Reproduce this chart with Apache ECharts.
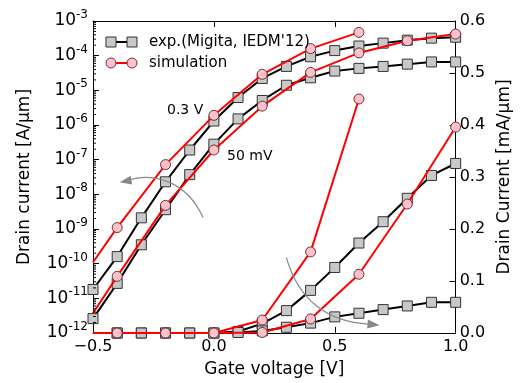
<!DOCTYPE html>
<html>
<head>
<meta charset="utf-8">
<script src="https://cdn.jsdelivr.net/npm/echarts@6/dist/echarts.min.js"></script>
<style>
  html, body { margin: 0; padding: 0; background: #fff; }
  #chart { width: 521px; height: 383px; }
</style>
</head>
<body>
<div id="chart"></div>
<script>
// gate voltage points
const expVg = [-0.5, -0.4, -0.3, -0.2, -0.1, 0.0, 0.1, 0.2, 0.3, 0.4, 0.5, 0.6, 0.7, 0.8, 0.9, 1.0]
const simVg = [-0.5, -0.4, -0.2, 0.0, 0.2, 0.4, 0.6, 0.8, 1.0]

// log scale [A/um]
const expLog03 = [1.8e-11, 1.6e-10, 2.1e-9, 2.3e-8, 1.9e-7, 1.3e-6, 6.2e-6, 2.2e-5, 4.9e-5, 9.3e-5, 1.4e-4, 1.9e-4, 2.3e-4, 2.8e-4, 3.2e-4, 3.4e-4]
const expLog005 = [2.6e-12, 2.7e-11, 3.5e-10, 3.6e-9, 3.7e-8, 2.8e-7, 1.5e-6, 5.1e-6, 1.4e-5, 2.3e-5, 3.6e-5, 4.3e-5, 4.9e-5, 5.7e-5, 6.6e-5, 6.6e-5]
const simLog03 = [1.1e-10, 1.1e-9, 7.2e-8, 1.9e-6, 2.9e-5, 1.6e-4, 4.7e-4]
const simLog005 = [3.7e-12, 4.3e-11, 4.8e-9, 1.9e-7, 3.5e-6, 3.3e-5, 1.2e-4, 2.7e-4, 4.2e-4]

// linear scale [mA/um]
const expLin03 = [0, 0, 0, 0, 0, 0, 0.003, 0.018, 0.043, 0.082, 0.126, 0.173, 0.214, 0.259, 0.303, 0.326]
const expLin005 = [0, 0, 0, 0, 0, 0, 0.001, 0.004, 0.011, 0.019, 0.031, 0.038, 0.045, 0.052, 0.059, 0.059]
const simLin03 = [0, 0, 0, 0, 0.025, 0.156, 0.450]
const simLin005 = [0, 0, 0, 0, 0.001, 0.027, 0.113, 0.248, 0.396]

const EXP_NAME = 'exp.(Migita, IEDM\'12)'
const SIM_NAME = 'simulation'
const FONT = 'DejaVu Sans'

const chart = echarts.init(document.getElementById('chart'))

const GRID = { left: 93, top: 21, right: 62, bottom: 50 }

function pairs (xs, ys, skipFirstSymbol) {
  return ys.map((y, i) => {
    const item = { value: [xs[i], y] }
    if (skipFirstSymbol && i === 0) item.symbol = 'none'
    return item
  })
}

function expSeries (ys, yAxisIndex, start) {
  return {
    name: EXP_NAME,
    type: 'line',
    yAxisIndex,
    data: pairs(expVg.slice(start || 0), ys.slice(start || 0), false),
    symbol: 'rect',
    symbolSize: 10,
    lineStyle: { color: '#000', width: 2 },
    itemStyle: { color: '#c8c8c8', borderColor: '#333', borderWidth: 1 },
    z: 2,
    animation: false
  }
}

function simSeries (ys, yAxisIndex) {
  return {
    name: SIM_NAME,
    type: 'line',
    yAxisIndex,
    data: pairs(simVg, ys, true),
    symbol: 'circle',
    symbolSize: 10,
    lineStyle: { color: '#ff0000', width: 2 },
    itemStyle: { color: '#ffc0cb', borderColor: '#663333', borderWidth: 1 },
    z: 3,
    animation: false
  }
}

const tickStyle = { show: true, inside: true, length: 6, lineStyle: { color: '#000', width: 1 } }
const lineStyle = { show: true, onZero: false, lineStyle: { color: '#000', width: 1 } }

const option = {
  animation: false,
  grid: GRID,
  xAxis: [{
    type: 'value',
    min: -0.5,
    max: 1.0,
    interval: 0.5,
    name: 'Gate voltage [V]',
    nameLocation: 'middle',
    nameGap: 28,
    nameTextStyle: { fontFamily: FONT, fontSize: 17, color: '#000' },
    axisLine: lineStyle,
    axisTick: tickStyle,
    splitLine: { show: false },
    axisLabel: {
      fontFamily: FONT,
      fontSize: 16,
      color: '#000',
      margin: 6,
      formatter: v => (v < 0 ? '\u2212' : '') + Math.abs(v).toFixed(1)
    }
  }, {
    type: 'value',
    position: 'top',
    min: -0.5,
    max: 1.0,
    interval: 0.5,
    axisLine: lineStyle,
    axisTick: tickStyle,
    axisLabel: { show: false },
    splitLine: { show: false }
  }],
  yAxis: [{
    type: 'log',
    logBase: 10,
    min: 1e-12,
    max: 1e-3,
    splitNumber: 9,
    name: 'Drain current [A/\u03bcm]',
    nameLocation: 'middle',
    nameGap: 60,
    nameTextStyle: { fontFamily: FONT, fontSize: 17, color: '#000' },
    axisLine: lineStyle,
    axisTick: tickStyle,
    splitLine: { show: false },
    axisLabel: {
      margin: 5,
      formatter: v => '{b|10}{s|' + Math.round(Math.log10(v)) + '}',
      rich: {
        b: { fontFamily: FONT, fontSize: 17, color: '#000' },
        s: { fontFamily: FONT, fontSize: 12, color: '#000', padding: [0, 0, 12, 0] }
      }
    }
  }, {
    type: 'value',
    position: 'right',
    min: 0,
    max: 0.6,
    interval: 0.1,
    name: 'Drain Current [mA/\u03bcm]',
    nameLocation: 'middle',
    nameRotate: 90,
    nameGap: 36,
    nameTextStyle: { fontFamily: FONT, fontSize: 17, color: '#000' },
    axisLine: lineStyle,
    axisTick: tickStyle,
    splitLine: { show: false },
    axisLabel: {
      fontFamily: FONT,
      fontSize: 16,
      color: '#000',
      margin: 4,
      formatter: v => v.toFixed(1)
    }
  }],
  series: [
    expSeries(expLog03, 0),
    expSeries(expLog005, 0),
    expSeries(expLin03, 1, 1),
    expSeries(expLin005, 1, 1),
    simSeries(simLog03, 0),
    simSeries(simLog005, 0),
    simSeries(simLin03, 1),
    simSeries(simLin005, 1)
  ]
}

chart.setOption(option)

// annotations, legend and log minor ticks
function px (vg, lin) {
  return chart.convertToPixel({ xAxisIndex: 0, yAxisIndex: 1 }, [vg, lin])
}

function arrow (pts, head) {
  const [p0, p1, p2, p3] = pts.map(p => px(p[0], p[1]))
  const tip = px(head[0], head[1])
  const dx = tip[0] - p3[0]
  const dy = tip[1] - p3[1]
  const len = Math.hypot(dx, dy)
  const ux = dx / len
  const uy = dy / len
  const hw = 4.5
  const hl = 12
  const base = [tip[0] - ux * hl, tip[1] - uy * hl]
  return [{
    type: 'bezierCurve',
    shape: { x1: p0[0], y1: p0[1], cpx1: p1[0], cpy1: p1[1], cpx2: p2[0], cpy2: p2[1], x2: p3[0], y2: p3[1] },
    style: { stroke: '#888', lineWidth: 1.2, fill: null },
    z: 10
  }, {
    type: 'polygon',
    shape: { points: [tip, [base[0] - uy * hw, base[1] + ux * hw], [base[0] + uy * hw, base[1] - ux * hw]] },
    style: { fill: '#888' },
    z: 10
  }]
}

const graphics = []

// left axis minor ticks (log positions)
for (let e = -12; e < -3; e++) {
  for (let m = 2; m <= 9; m++) {
    const p = chart.convertToPixel({ xAxisIndex: 0, yAxisIndex: 0 }, [-0.5, m * Math.pow(10, e)])
    graphics.push({
      type: 'line',
      shape: { x1: p[0], y1: p[1], x2: p[0] + 3, y2: p[1] },
      style: { stroke: '#000', lineWidth: 1 },
      z: 5
    })
  }
}

// curved arrows
graphics.push(...arrow(
  [[-0.045, 0.222], [-0.115, 0.295], [-0.26, 0.31], [-0.365, 0.292]],
  [-0.39, 0.29]
))
graphics.push(...arrow(
  [[0.30, 0.145], [0.35, 0.063], [0.47, 0.021], [0.64, 0.017]],
  [0.685, 0.015]
))

// legend
const legendItems = [
  { name: EXP_NAME, symbol: 'rect', line: '#000', fill: '#c8c8c8', border: '#333', y: 42 },
  { name: SIM_NAME, symbol: 'circle', line: '#ff0000', fill: '#ffc0cb', border: '#663333', y: 63 }
]
legendItems.forEach(item => {
  const x0 = 111
  const x1 = 132
  graphics.push({
    type: 'line',
    shape: { x1: x0, y1: item.y, x2: x1, y2: item.y },
    style: { stroke: item.line, lineWidth: 2 },
    z: 20
  })
  ;[x0, x1].forEach(x => {
    if (item.symbol === 'rect') {
      graphics.push({
        type: 'rect',
        shape: { x: x - 5, y: item.y - 5, width: 10, height: 10 },
        style: { fill: item.fill, stroke: item.border, lineWidth: 1 },
        z: 21
      })
    } else {
      graphics.push({
        type: 'circle',
        shape: { cx: x, cy: item.y, r: 5 },
        style: { fill: item.fill, stroke: item.border, lineWidth: 1 },
        z: 21
      })
    }
  })
  graphics.push({
    type: 'text',
    x: 149,
    y: item.y,
    style: { text: item.name, fontFamily: FONT, fontSize: 15, fill: '#000', verticalAlign: 'middle' },
    z: 21
  })
})

// curve labels
graphics.push({
  type: 'text', x: 167, y: 110,
  style: { text: '0.3 V', fontFamily: FONT, fontSize: 14, fill: '#000', verticalAlign: 'middle' },
  z: 20
})
graphics.push({
  type: 'text', x: 227, y: 156,
  style: { text: '50 mV', fontFamily: FONT, fontSize: 14, fill: '#000', verticalAlign: 'middle' },
  z: 20
})

chart.setOption({ graphic: graphics })
</script>
</body>
</html>
